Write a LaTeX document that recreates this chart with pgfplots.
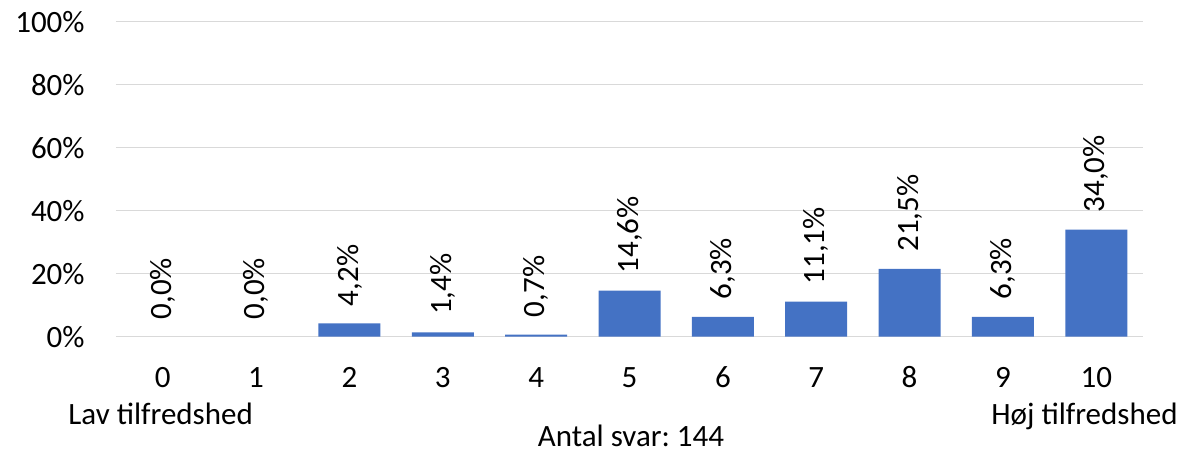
\documentclass[border=0pt]{standalone}
\usepackage{fontspec}
\setmainfont{Carlito}
\usepackage{pgfplots}
\pgfplotsset{compat=1.18}
\definecolor{barblue}{HTML}{4472C4}
\definecolor{gridgray}{HTML}{D9D9D9}

\newcommand{\chartfont}{\fontsize{15.5}{18.6}\selectfont}
\frenchspacing

\begin{document}
\begin{tikzpicture}[font=\chartfont]
\begin{axis}[
  at={(0,0)}, anchor=south west,
  scale only axis,
  width=513.5pt, height=157.5pt,
  ybar, bar width=31pt, bar shift=0pt,
  xmin=-0.5, xmax=10.5,
  ymin=0, ymax=100,
  xtick={0,...,10},
  ytick={0,20,...,100},
  yticklabel={\pgfmathprintnumber{\tick}\%},
  /pgf/number format/assume math mode=true,
  axis line style={draw=none},
  major tick length=0pt,
  tick style={draw=none},
  ymajorgrids,
  grid style={gridgray, line width=0.75pt},
  tick label style={font=\chartfont, text=black},
  yticklabel style={anchor=east, inner sep=0pt, xshift=-15.5pt},
  xticklabel style={anchor=base, inner sep=0pt, yshift=-25.6pt},
  clip=false,
  nodes near coords={\pgfmathprintnumber[fixed, fixed zerofill, precision=1, use comma]{\pgfplotspointmeta}\%},
  every node near coord/.append style={font=\chartfont, text=black,
    rotate=90, anchor=west, inner xsep=8.5pt, inner ysep=0pt},
]
% bars with a value
\addplot[fill=barblue, draw=none] table[x=score, y=pct] {
score pct
2 4.2
3 1.4
4 0.7
5 14.6
6 6.3
7 11.1
8 21.5
9 6.3
10 34.0
};
% scores nobody gave: label only
\addplot[fill=none, draw=none] table[x=score, y=pct] {
score pct
0 0.0
1 0.0
};
\end{axis}
\node[anchor=base west, inner sep=0pt] at (-24pt,-43.9pt) {Lav tilfredshed};
\node[anchor=base east, inner sep=0pt] at (531pt,-43.9pt) {Høj tilfredshed};
\node[anchor=base, inner sep=0pt] at (257.5pt,-55pt) {Antal svar: 144};
\path (-58pt,-57.15pt) (533.5pt,168.35pt);
\end{tikzpicture}
\end{document}
